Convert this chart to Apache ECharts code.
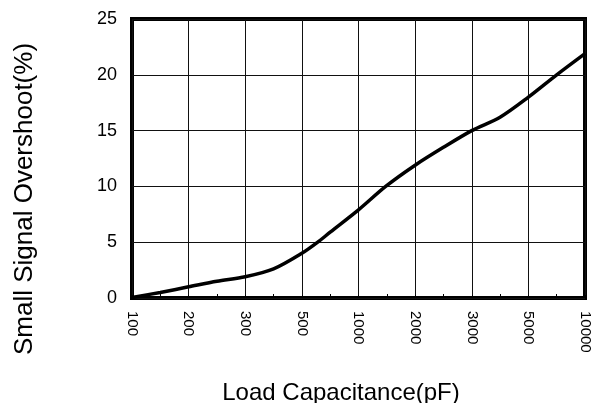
<!DOCTYPE html>
<html>
<head>
<meta charset="utf-8">
<script src="https://cdn.jsdelivr.net/npm/echarts@6/dist/echarts.min.js"></script>
<style>html,body{margin:0;padding:0;background:#fff}#c{width:591px;height:403px}</style>
</head>
<body>
<div id="c"></div>
<script>
// Category tick labels (evenly spaced positions on the x axis)
var xTickLabels = ['100','200','300','500','1000','2000','3000','5000','10000'];
// Curve samples: position along the x axis (in tick-index units) and overshoot (%)
var xPos      = [0,    0.5,  1,    1.5,  2,    2.5,  3,    3.28, 3.5,  4,    4.48, 5,    5.5,  6,    6.5,  7,    7.5,  8];
var overshoot = [0.05, 0.5,  1.0,  1.5,  1.9,  2.6,  4.0,  5.0,  5.9,  7.9,  10.0, 11.9, 13.5, 15.0, 16.2, 18.0, 20.0, 21.9];
var yTicks = [0, 25, 5];
var xTitle = 'Load Capacitance(pF)';
var yTitle = 'Small Signal Overshoot(%)';

var data = xPos.map(function(x, i){ return [x, overshoot[i]]; });
var chart = echarts.init(document.getElementById('c'));
var font = 'Liberation Sans, Arial, sans-serif';
chart.setOption({
  animation: false,
  grid: {left: 132, right: 6, top: 19, bottom: 105, show: true, borderColor: '#000', borderWidth: 4,
         backgroundColor: 'transparent', outerBoundsMode: 'none', containLabel: false},
  graphic: [
    {type: 'text', x: 25, y: 199, rotation: Math.PI / 2,
     style: {text: yTitle, font: '26px ' + font, fill: '#000', align: 'center', verticalAlign: 'middle'}},
    {type: 'text', x: 341, y: 393,
     style: {text: xTitle, font: '24px ' + font, fill: '#000', align: 'center', verticalAlign: 'middle'}}
  ],
  xAxis: {
    type: 'value', min: 0, max: 8, interval: 1,
    axisLine: {show: false},
    axisTick: {show: true, inside: true, length: 3, lineStyle: {color: '#000'}},
    minorTick: {show: true, splitNumber: 2, length: 4, lineStyle: {color: '#000', width: 1}},
    splitLine: {show: true, lineStyle: {color: '#111', width: 1}},
    axisLabel: {rotate: -90, margin: 13, fontFamily: font, fontSize: 15, color: '#000',
      formatter: function(v){ return xTickLabels[Math.round(v)] || ''; }}
  },
  yAxis: {
    type: 'value', min: yTicks[0], max: yTicks[1], interval: yTicks[2],
    axisLine: {show: false}, axisTick: {show: false},
    splitLine: {show: true, lineStyle: {color: '#111', width: 1}},
    axisLabel: {margin: 15, fontFamily: font, fontSize: 18, color: '#000'}
  },
  series: [{
    type: 'line', data: data, smooth: 0.3, symbol: 'none',
    lineStyle: {color: '#000', width: 3.5}
  }]
});
</script>
</body>
</html>
